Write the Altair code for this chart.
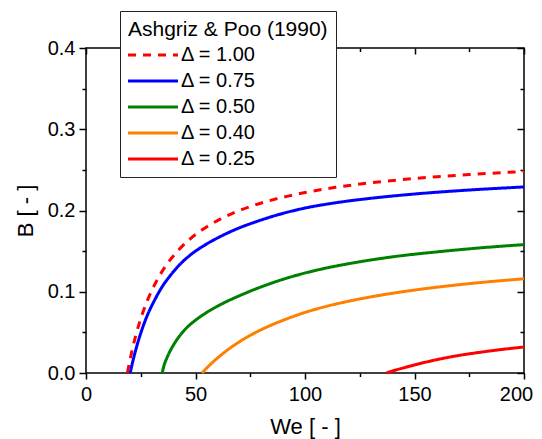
import altair as alt
import pandas as pd

# Series labels, colours and dash patterns
labels = ["Δ = 1.00", "Δ = 0.75", "Δ = 0.50", "Δ = 0.40", "Δ = 0.25"]
colors = ["#FF0000", "#0000FF", "#008000", "#FF8000", "#FF0000"]
dashes = [[8, 7], [1, 0], [1, 0], [1, 0], [1, 0]]

# Values (We, B), smoothed by eye
we_100 = [18.9, 20.0, 21.0, 22.5, 24.5, 27.0, 30.0, 33.5, 37.5, 42.0, 47.0, 53.0, 60.0, 68.0, 77.0, 87.0, 100.0, 114.0, 130.0, 150.0, 175.0, 200.0]
b_100 = [0.0, 0.0151, 0.0274, 0.0438, 0.0626, 0.0822, 0.1013, 0.1194, 0.1359, 0.1506, 0.1638, 0.1762, 0.1876, 0.1978, 0.2067, 0.2144, 0.2221, 0.2285, 0.2341, 0.2394, 0.2443, 0.248]

we_075 = [20.2, 21.0, 22.0, 23.5, 25.5, 28.0, 31.0, 34.5, 38.5, 43.0, 48.0, 54.0, 61.0, 69.0, 78.0, 88.0, 100.0, 114.0, 130.0, 150.0, 175.0, 200.0]
b_075 = [0.0, 0.010, 0.021, 0.036, 0.053, 0.071, 0.088, 0.105, 0.120, 0.134, 0.146, 0.157, 0.1675, 0.1775, 0.1865, 0.195, 0.203, 0.2095, 0.215, 0.2203, 0.2252, 0.229]

we_050 = [34.8, 35.5, 37.0, 39.0, 41.5, 45.0, 50.5, 56.0, 62.0, 70.0, 80.0, 92.0, 106.0, 122.0, 140.0, 160.0, 180.0, 200.0]
b_050 = [0.0, 0.008, 0.019, 0.030, 0.041, 0.053, 0.066, 0.076, 0.085, 0.095, 0.106, 0.117, 0.127, 0.1355, 0.143, 0.149, 0.154, 0.158]

we_040 = [53.0, 54.0, 56.0, 59.0, 63.0, 68.0, 74.0, 81.0, 89.0, 98.0, 108.0, 120.0, 135.0, 152.0, 175.0, 200.0]
b_040 = [0.0, 0.0029, 0.0085, 0.016, 0.025, 0.0348, 0.0448, 0.0546, 0.0638, 0.0728, 0.0808, 0.0884, 0.096, 0.1028, 0.110, 0.116]

we_025 = [137.2, 140.0, 145.0, 152.0, 160.0, 170.0, 180.0, 190.0, 200.0]
b_025 = [0.0, 0.0025, 0.0063, 0.0113, 0.0163, 0.0215, 0.0255, 0.029, 0.032]

x_major = [0, 50, 100, 150, 200]
x_minor = [25, 75, 125, 175]
y_major = [0.0, 0.1, 0.2, 0.3, 0.4]
y_minor = [0.05, 0.15, 0.25, 0.35]

series = [(we_100, b_100), (we_075, b_075), (we_050, b_050), (we_040, b_040), (we_025, b_025)]
rows = []
for lab, (ws, bs) in zip(labels, series):
    for w, b in zip(ws, bs):
        rows.append({"We": w, "B": b, "label": lab})
df = pd.DataFrame(rows)

FONT = "Liberation Sans"
xs = alt.Scale(domain=[0, 200], nice=False, zero=False)
ys = alt.Scale(domain=[0, 0.4], nice=False)

legend = alt.Legend(
    title="Ashgriz & Poo (1990)", orient="none", legendX=34, legendY=-37,
    padding=8, strokeColor="#222222", fillColor="white",
    symbolType="M-5,0H5", symbolSize=100, symbolStrokeWidth=3,
    symbolOffset=15, labelOffset=18, labelFontSize=20, titleFontSize=21,
    titleFontWeight="normal", titlePadding=5, rowPadding=6, titleLimit=400,
    labelLimit=300, labelColor="black", titleColor="black",
    labelFont=FONT, titleFont=FONT, direction="vertical",
)

base = alt.Chart(df)

main = base.mark_line(strokeWidth=3, interpolate="monotone").encode(
    x=alt.X("We:Q", scale=xs, title="We [ - ]",
            axis=alt.Axis(orient="bottom", values=x_major, tickSize=6, labelPadding=5,
                          format="d", labelFlush=False, labelOverlap=False, titlePadding=12,
                          labelOffset={"condition": {"test": "datum.value >= 200", "value": -8}, "value": 0})),
    y=alt.Y("B:Q", scale=ys, title="B [ - ]",
            axis=alt.Axis(orient="left", values=y_major, tickSize=7, labelPadding=4,
                          format=".1f", labelFlush=False, labelOverlap=False, titlePadding=10)),
    color=alt.Color("label:N", scale=alt.Scale(domain=labels, range=colors), legend=legend),
    strokeDash=alt.StrokeDash("label:N", scale=alt.Scale(domain=labels, range=dashes), legend=legend),
)

minor = base.mark_point(opacity=0).encode(
    x=alt.X("We:Q", scale=xs, title=None,
            axis=alt.Axis(orient="bottom", values=x_minor, tickSize=3.5, labels=False)),
    y=alt.Y("B:Q", scale=ys, title=None,
            axis=alt.Axis(orient="left", values=y_minor, tickSize=4, labels=False)),
)

mirror_major = base.mark_point(opacity=0).encode(
    x=alt.X("We:Q", scale=xs, title=None,
            axis=alt.Axis(orient="top", values=x_major, tickSize=6, offset=-6, labels=False)),
    y=alt.Y("B:Q", scale=ys, title=None,
            axis=alt.Axis(orient="right", values=y_major, tickSize=7, offset=-7, labels=False)),
)

mirror_minor = base.mark_point(opacity=0).encode(
    x=alt.X("We:Q", scale=xs, title=None,
            axis=alt.Axis(orient="top", values=x_minor, tickSize=3.5, offset=-3.5, labels=False)),
    y=alt.Y("B:Q", scale=ys, title=None,
            axis=alt.Axis(orient="right", values=y_minor, tickSize=4, offset=-4, labels=False)),
)

chart = alt.layer(main, minor, mirror_major, mirror_minor).resolve_axis(
    x="independent", y="independent"
).properties(
    width=438, height=325,
    padding={"left": 78, "top": 40, "right": 10, "bottom": 66},
    autosize=alt.AutoSizeParams(type="none"),
).configure_view(
    stroke="black", strokeWidth=1.5
).configure_axis(
    grid=False, domain=False, tickColor="black", tickWidth=1.5,
    labelFont=FONT, titleFont=FONT, labelFontSize=20, titleFontSize=22,
    labelColor="black", titleColor="black", titleFontWeight="normal",
)

chart.save("out.html", embed_options={"renderer": "svg", "actions": False})
